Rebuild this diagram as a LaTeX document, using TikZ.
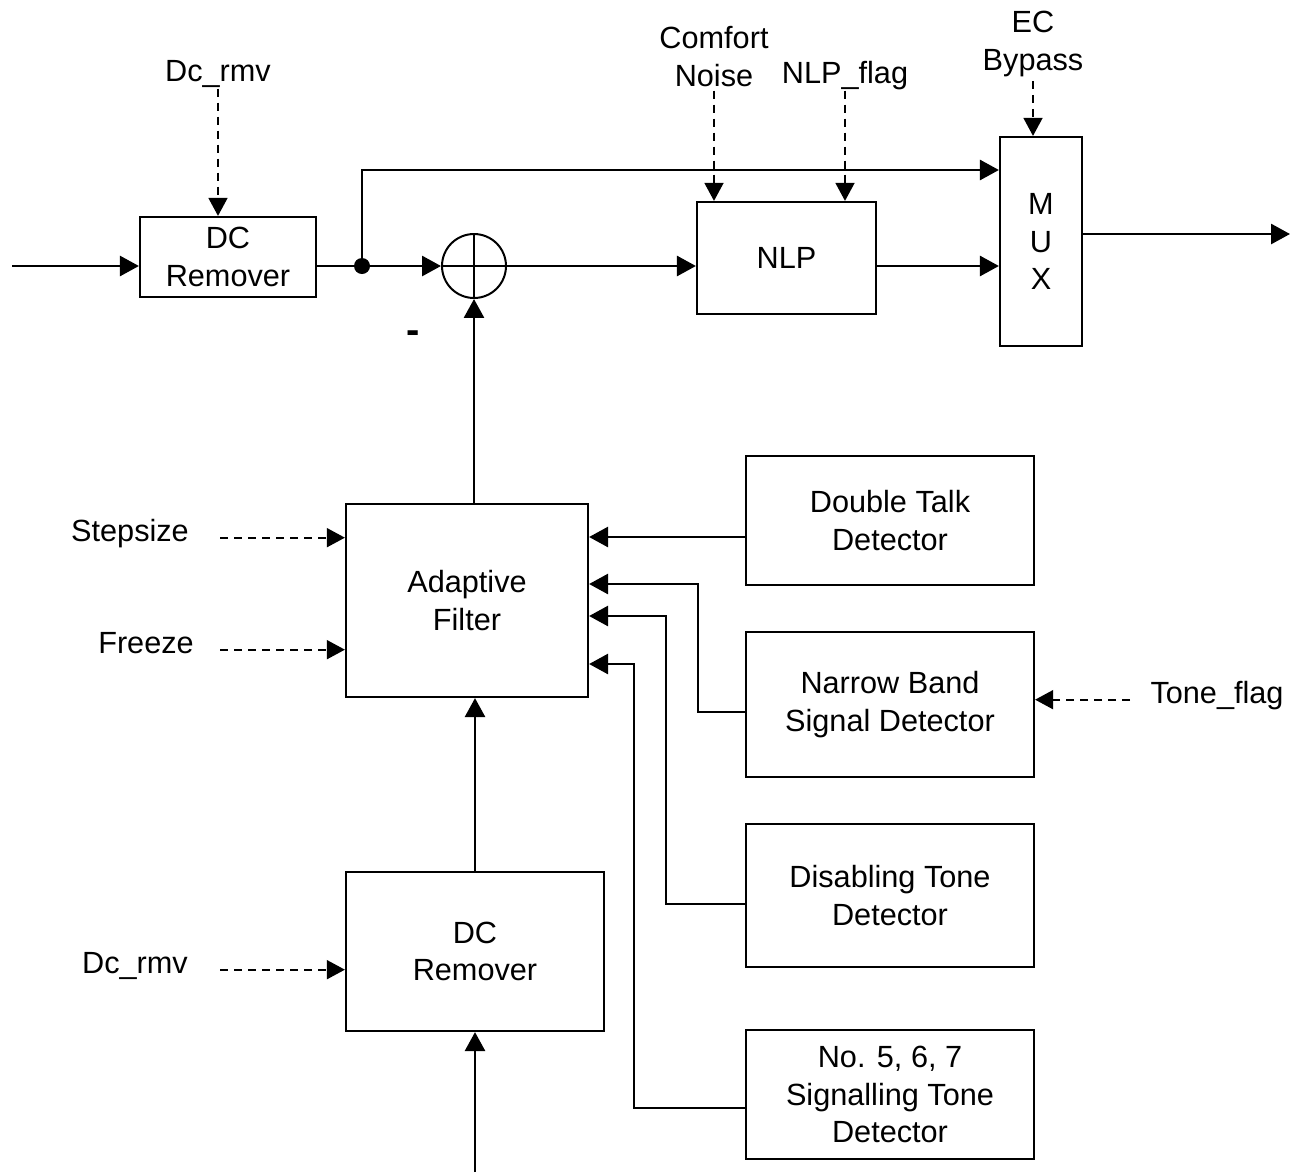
\documentclass[tikz,border=0pt]{standalone}
\usepackage{fontspec}
\setmainfont{Liberation Sans}
\usetikzlibrary{arrows.meta}

\newlength\pxu
\setlength\pxu{0.75pt}

\tikzset{
	blk/.style={draw, line width=2.2\pxu, inner sep=0pt, align=center},
	wire/.style={line width=2.6\pxu},
	sig/.style={wire, -{Triangle[length=14.2pt, width=15pt]}},
	ctl/.style={line width=1.8\pxu, dash pattern=on 8\pxu off 6\pxu, -{Triangle[length=13.5pt, width=14.2pt]}},
	lbl/.style={inner sep=4\pxu, align=center},
	sidelbl/.style={inner sep=4\pxu, text height=0.75em, text depth=0.25em, anchor=base},
}

\begin{document}
\begin{tikzpicture}[x=0.75pt, y=-0.75pt, font=\fontsize{23}{28}\selectfont]
	\useasboundingbox (0,0) rectangle (1292,1172);

	\node[blk, minimum width=176\pxu, minimum height=80\pxu] (dcr1) at (228,257) {DC\\Remover};
	\node[circle, draw, line width=2\pxu, minimum size=64\pxu, inner sep=0pt] (sum) at (474,266) {};
	\node[circle, fill, minimum size=16\pxu, inner sep=0pt] (jn) at (362,266) {};
	\node[blk, minimum width=179\pxu, minimum height=112\pxu] (nlp) at (786.5,258) {NLP};
	\node[blk, minimum width=82\pxu, minimum height=209\pxu] (mux) at (1041,241.5) {M\\U\\X};

	\node[blk, minimum width=242\pxu, minimum height=193\pxu] (af) at (467,600.5) {Adaptive\\Filter};
	\node[blk, minimum width=258\pxu, minimum height=159\pxu] (dcr2) at (475,951.5) {DC\\Remover};
	\node[blk, minimum width=288\pxu, minimum height=129\pxu] (dtd) at (890,520.5) {Double Talk\\Detector};
	\node[blk, minimum width=288\pxu, minimum height=145\pxu] (nbd) at (890,704.5) {Narrow Band\\Signal Detector};
	\node[blk, minimum width=288\pxu, minimum height=143\pxu] (dtn) at (890,895.5) {Disabling Tone\\Detector};
	\node[blk, minimum width=288\pxu, minimum height=129\pxu] (stn) at (890,1094.5) {No. 5, 6, 7\\Signalling Tone\\Detector};

	\node[sidelbl] (rmv1) at (218,81) {Dc\_rmv};
	\node[lbl] (cn) at (714,56.5) {Comfort\\Noise};
	\node[sidelbl] (flag) at (845,83) {NLP\_flag};
	\node[lbl] (ecb) at (1033,44) {EC\\Bypass};
	\node[sidelbl] (stp) at (130,541) {Stepsize};
	\node[sidelbl] (frz) at (146,653) {Freeze};
	\node[sidelbl] (rmv2) at (135,973) {Dc\_rmv};
	\node[sidelbl] (tone) at (1217,703) {Tone\_flag};
	\node[sidelbl, font=\fontsize{30}{30}\selectfont\bfseries] (minus) at (413,343) {-};

	\coordinate (in1) at (12,266);
	\coordinate (out) at (1290,234);
	\coordinate (in2) at (475,1172);
	\coordinate (byp) at (0,170);
	\coordinate (ctlx) at (220,0);

	\draw[sig] (in1) -- (in1 -| dcr1.west);
	\draw[wire] (dcr1.east |- jn) -- (jn);
	\draw[sig] (jn) -- (sum.west);
	\draw[sig] (jn) |- (byp -| mux.west);
	\draw[wire] (sum.north) -- (sum.south) (sum.west) -- (sum.east);
	\draw[sig] (sum.east) -- (sum.east -| nlp.west);
	\draw[sig] (nlp.east |- sum) -- (sum -| mux.west);
	\draw[sig] (out -| mux.east) -- (out);

	\draw[sig] (af.north -| sum) -- (sum.south);
	\draw[sig] (dcr2.north) -- (dcr2.north |- af.south);
	\draw[sig] (in2) -- (in2 |- dcr2.south);

	\draw[sig] (dtd.west |- 0,537) -- (af.east |- 0,537);
	\draw[sig] (nbd.west |- 0,712) -| (698,584) -- (af.east |- 0,584);
	\draw[sig] (dtn.west |- 0,904) -| (666,616) -- (af.east |- 0,616);
	\draw[sig] (stn.west |- 0,1108) -| (634,664) -- (af.east |- 0,664);

	\draw[ctl] (rmv1.south) -- (rmv1.south |- dcr1.north);
	\draw[ctl] (cn.south) -- (cn.south |- nlp.north);
	\draw[ctl] (flag.south) -- (flag.south |- nlp.north);
	\draw[ctl] (ecb.south) -- (ecb.south |- mux.north);
	\draw[ctl] (stp.east -| ctlx) -- (stp.east -| af.west);
	\draw[ctl] (frz.east -| ctlx) -- (frz.east -| af.west);
	\draw[ctl] (rmv2.east -| ctlx) -- (rmv2.east -| dcr2.west);
	\draw[ctl, shorten <=12pt] (tone.west) -- (tone.west -| nbd.east);
\end{tikzpicture}
\end{document}
